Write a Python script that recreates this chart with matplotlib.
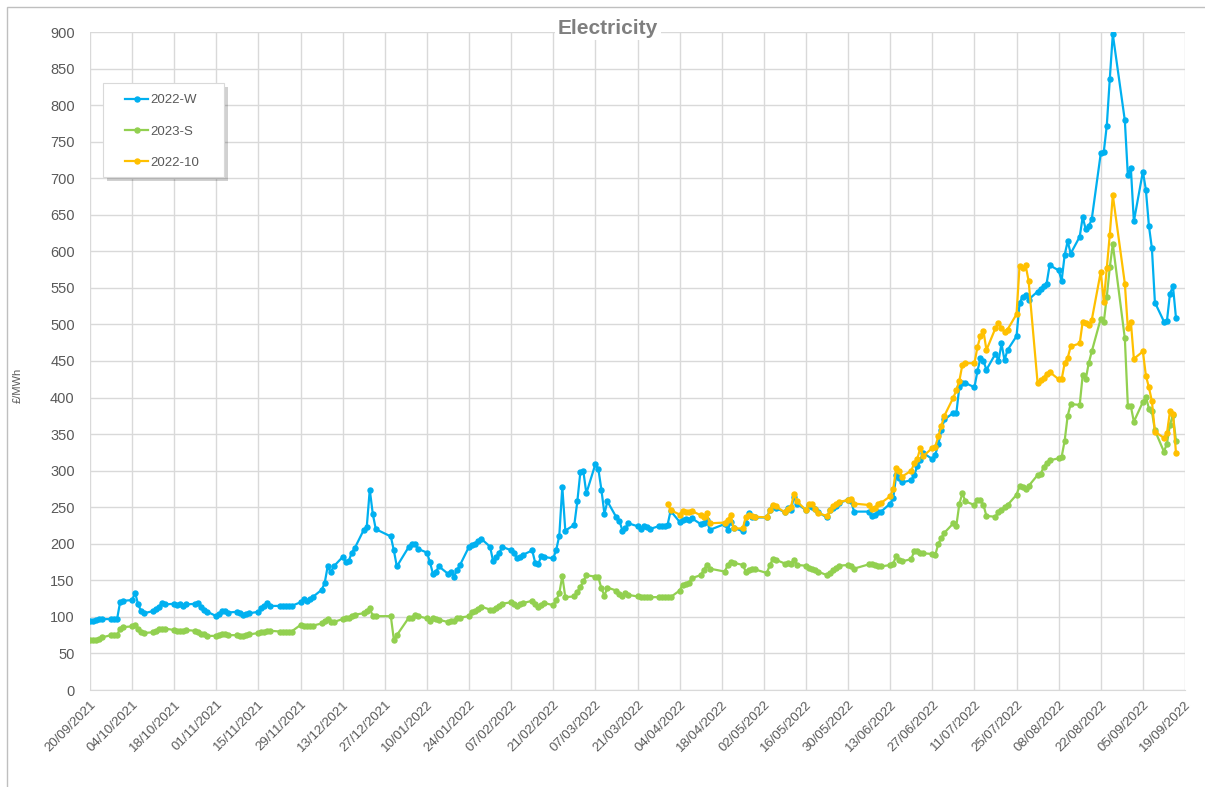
import pandas as pd
import matplotlib
matplotlib.use("Agg")
import matplotlib.pyplot as plt
import matplotlib.dates as mdates
import matplotlib.transforms as mtransforms
from matplotlib.patches import Rectangle

plt.rcParams["font.family"] = ["Liberation Sans", "DejaVu Sans"]

# Weekly rows Mon..Fri, starting Monday 20/09/2021 (None = no price that day)
first_monday = "2021-09-20"

w2022 = [
    [94, 95, 96, 97, 97], [97, 97, 97, 120, 122], [123, 133, 117, 108, 105],
    [108, 111, 114, 119, 117], [118, 116, 118, 115, 117], [118, 119, 114, 110, 107],
    [101, 104, 108, 108, 106], [107, 105, 103, 104, 105], [107, 112, 115, 119, 115],
    [115, 115, 115, 115, 115], [120, 124, 122, 124, 127], [137, 146, 169, 161, 169],
    [182, 175, 176, 188, 194], [219, 223, 274, 241, 220], [None, None, 210, 191, 169],
    [None, 196, 200, 200, 193], [188, 175, 159, 162, 169], [159, 162, 155, 164, 171],
    [196, 198, 200, 204, 207], [196, 176, 182, 187, 196], [191, 187, 180, 182, 185],
    [191, 174, 172, 183, 182], [180, 192, 211, 278, 218], [226, 258, 298, 299, 269],
    [309, 302, 274, 241, 258], [236, 231, 218, 221, 228], [224, 220, 224, 223, 220],
    [224, 224, 224, 226, 245], [230, 232, 234, 233, 235], [227, 229, 233, 219, None],
    [None, 227, 219, 230, 222], [217, 228, 242, 236, 236], [None, 236, 246, 251, 249],
    [243, 249, 246, 264, 255], [246, 253, 250, 247, 243], [236, 246, 249, 252, 256],
    [260, 258, 244, None, None], [244, 238, 239, 244, 244], [255, 262, 294, 290, 284],
    [287, 294, 306, 315, 324], [316, 322, 336, 355, 370], [379, 379, 415, 420, 420],
    [414, 436, 454, 450, 438], [460, 450, 474, 451, 465], [484, 529, 538, 540, 534],
    [545, 549, 552, 556, 581], [574, 560, 595, 614, 597], [620, 647, 630, 634, 644],
    [734, 736, 772, 836, 897], [None, 779, 704, 714, 641], [709, 684, 635, 604, 530],
    [504, 505, 542, 552, 509],
]

s2023 = [
    [69, 68, 68, 70, 72], [75, 75, 75, 84, 86], [87, 89, 83, 80, 78],
    [79, 81, 83, 84, 84], [82, 81, 81, 81, 82], [81, 80, 77, 76, 74],
    [74, 75, 76, 76, 75], [75, 74, 74, 75, 76], [78, 79, 80, 81, 81],
    [80, 80, 80, 80, 80], [89, 87, 87, 87, 88], [91, 95, 97, 93, 93],
    [97, 98, 99, 101, 103], [105, 108, 112, 101, 101], [None, None, 101, 69, 75],
    [None, 99, 98, 103, 101], [98, 95, 98, 97, 96], [93, 94, 95, 98, 99],
    [101, 107, 108, 111, 114], [110, 110, 112, 115, 118], [120, 118, 115, 117, 119],
    [122, 118, 114, 116, 119], [116, 123, 132, 156, 127], [128, 134, 141, 149, 157],
    [155, 154, 139, 129, 140], [136, 131, 128, 132, 130], [128, 127, 127, 127, 127],
    [127, 127, 127, 127, 127], [136, 144, 145, 146, 153], [157, 164, 171, 166, None],
    [None, 162, 171, 175, 174], [171, 162, 164, 166, 165], [None, 160, 171, 179, 178],
    [173, 174, 173, 178, 171], [170, 167, 165, 164, 162], [157, 160, 164, 167, 170],
    [171, 169, 166, None, None], [172, 172, 171, 170, 169], [171, 173, 183, 178, 176],
    [179, 190, 190, 188, 187], [186, 185, 200, 208, 215], [228, 225, 255, 269, 258],
    [253, 260, 260, 253, 238], [237, 244, 246, 250, 253], [267, 279, 277, 275, 279],
    [294, 295, 305, 310, 314], [317, 319, 341, 375, 391], [390, 431, 425, 447, 463],
    [508, 503, 538, 578, 610], [None, 481, 389, 388, 367], [394, 401, 385, 381, 355],
    [326, 337, 363, 376, 341],
]

m2022_10 = [[None] * 5] * 27 + [
    [None, None, None, 255, 246], [240, 245, 244, 243, 245], [239, 236, 242, 228, None],
    [None, 229, 233, 239, 221], [221, 237, 240, 238, 237], [None, 236, 246, 253, 251],
    [243, 248, 250, 268, 258], [246, 255, 254, 247, 242], [238, 246, 251, 254, 257],
    [260, 261, 255, None, None], [253, 248, 249, 255, 256], [265, 275, 303, 299, 292],
    [300, 310, 316, 331, 320], [331, 333, 347, 361, 375], [400, 410, 423, 445, 447],
    [447, 469, 484, 491, 465], [495, 502, 495, 490, 493], [514, 580, 577, 581, 560],
    [420, 424, 427, 432, 435], [425, 425, 447, 454, 470], [474, 504, 502, 499, 506],
    [572, 531, 577, 623, 677], [None, 556, 495, 504, 453], [463, 430, 414, 395, 353],
    [345, 351, 381, 378, 324],
]

labels = ["2022-W", "2023-S", "2022-10"]
colors = ["#00B0F0", "#92D050", "#FFC000"]


def to_series(weeks):
    start = pd.Timestamp(first_monday)
    dates, vals = [], []
    for k, row in enumerate(weeks):
        for j, v in enumerate(row):
            if v is not None:
                dates.append(start + pd.Timedelta(days=7 * k + j))
                vals.append(v)
    return dates, vals


W, H = 1205, 787
fig = plt.figure(figsize=(W / 100, H / 100), dpi=100)
ax = fig.add_axes([90 / W, 1 - 690 / H, 1095 / W, 658 / H])

for data, lab, col in zip([w2022, s2023, m2022_10], labels, colors):
    d, v = to_series(data)
    ax.plot(d, v, color=col, lw=1.6, marker="o", ms=3.6, label=lab)

ax.set_ylim(0, 900)
ax.set_yticks(range(0, 901, 50))
ax.set_xlim(pd.Timestamp("2021-09-20"), pd.Timestamp("2022-09-19"))
ax.set_xticks(pd.date_range("2021-09-20", "2022-09-19", freq="14D"))
ax.xaxis.set_major_formatter(mdates.DateFormatter("%d/%m/%Y"))
shift = mtransforms.ScaledTranslation(-6 / 100, -2 / 100, fig.dpi_scale_trans)
for lbl in ax.get_xticklabels():
    lbl.set_rotation(45)
    lbl.set_ha("right")
    lbl.set_rotation_mode("anchor")
    lbl.set_transform(lbl.get_transform() + shift)

ax.grid(True, color="#d9d9d9", lw=1)
ax.set_axisbelow(True)
for side in ["top", "right", "left"]:
    ax.spines[side].set_visible(False)
ax.spines["bottom"].set_color("#d9d9d9")
ax.tick_params(axis="both", length=0, colors="#595959")
ax.tick_params(axis="y", labelsize=10.5, pad=11)
ax.tick_params(axis="x", labelsize=9.5, pad=6)

fig.text(17.5 / W, 1 - 385 / H, "£/MWh", rotation=90, ha="center", va="center",
         fontsize=8, color="#595959")

fig.text(608 / W, 1 - 28 / H, "Electricity", ha="center", va="center",
         fontsize=15, fontweight="bold", color="#7f7f7f",
         bbox=dict(facecolor="white", edgecolor="none", pad=2))

# legend box with a soft shadow, drawn by hand to get Excel's proportions
lx0, ly0, lx1, ly1 = 103, 83, 224, 177
fig.patches.append(Rectangle(((lx0 + 4) / W, 1 - (ly1 + 4) / H), (lx1 - lx0) / W, (ly1 - ly0) / H,
                             transform=fig.transFigure, facecolor="#000000", alpha=0.18,
                             edgecolor="none", zorder=5))
fig.patches.append(Rectangle((lx0 / W, 1 - ly1 / H), (lx1 - lx0) / W, (ly1 - ly0) / H,
                             transform=fig.transFigure, facecolor="white",
                             edgecolor="#d9d9d9", lw=0.8, zorder=6))
leg = fig.legend(loc="upper left", bbox_to_anchor=(125 / W, 1 - 94 / H),
                 bbox_transform=fig.transFigure, frameon=False, fontsize=9.5,
                 labelspacing=1.45, handlelength=1.75, handletextpad=0.2,
                 borderpad=0, borderaxespad=0)
leg.set_zorder(7)
for t in leg.get_texts():
    t.set_color("#595959")

fig.patches.append(Rectangle((7 / W, -0.01), 1.0, 1 - 7 / H + 0.01, transform=fig.transFigure,
                             fill=False, edgecolor="#bfbfbf", lw=1))

fig.savefig("out.png", dpi=100)
